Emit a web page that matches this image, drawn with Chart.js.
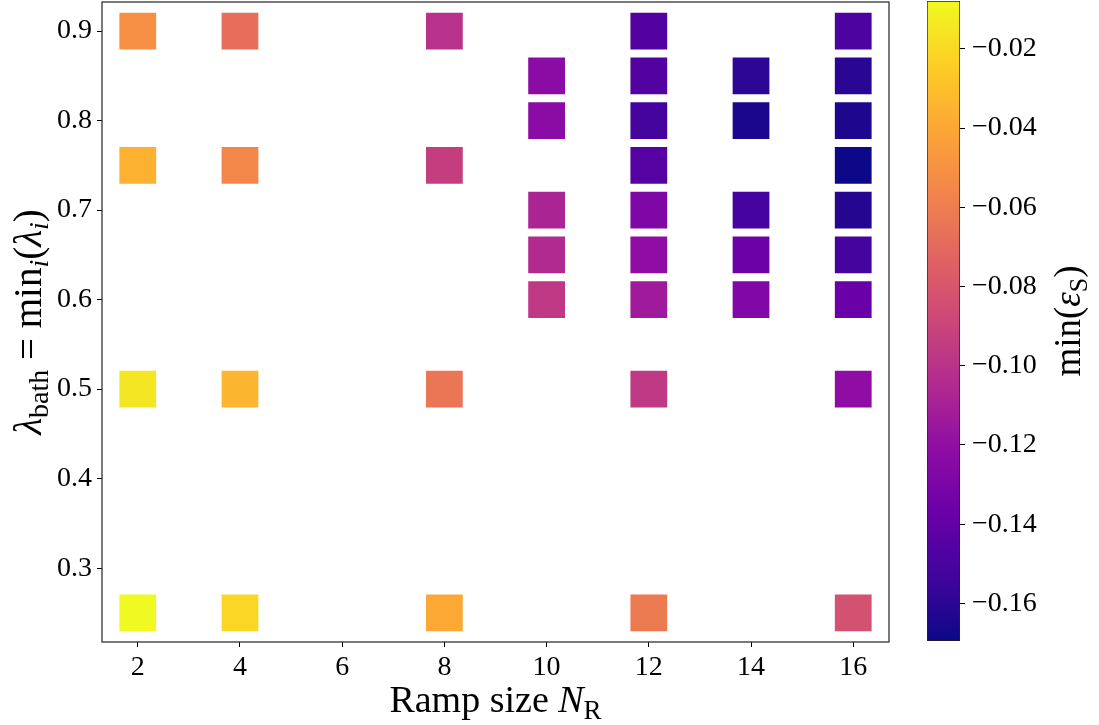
<!DOCTYPE html>
<html>
<head>
<meta charset="utf-8">
<script src="https://cdn.jsdelivr.net/npm/chart.js@4/dist/chart.umd.min.js"></script>
<style>
  body { margin: 0; background: #fff; }
  #wrap { position: relative; width: 1099px; height: 725px; }
  #main { position: absolute; left: 0; top: 0; }
  #cbar { position: absolute; left: 890px; top: 0; }
</style>
</head>
<body>
<div id="wrap">
  <canvas id="main" width="900" height="725"></canvas>
  <canvas id="cbar" width="209" height="725"></canvas>
</div>
<script>
// ramp size N_R, lambda_bath and min(eps_S) for each square
const rampSize = [
  2, 2, 2, 2,
  4, 4, 4, 4,
  8, 8, 8, 8,
  10, 10, 10, 10, 10,
  12, 12, 12, 12, 12, 12, 12, 12, 12,
  14, 14, 14, 14, 14,
  16, 16, 16, 16, 16, 16, 16, 16, 16
];
const lambdaBath = [
  0.9, 0.75, 0.5, 0.25,
  0.9, 0.75, 0.5, 0.25,
  0.9, 0.75, 0.5, 0.25,
  0.85, 0.8, 0.7, 0.65, 0.6,
  0.9, 0.85, 0.8, 0.75, 0.7, 0.65, 0.6, 0.5, 0.25,
  0.85, 0.8, 0.7, 0.65, 0.6,
  0.9, 0.85, 0.8, 0.75, 0.7, 0.65, 0.6, 0.5, 0.25
];
const minEps = [
  -0.0507, -0.0357, -0.0150, -0.0079,
  -0.0677, -0.0548, -0.0342, -0.0208,
  -0.1007, -0.0936, -0.0637, -0.0394,
  -0.1226, -0.1226, -0.1081, -0.1049, -0.0971,
  -0.1462, -0.1461, -0.1514, -0.1451, -0.1285, -0.1210, -0.1134, -0.0968, -0.0609,
  -0.1598, -0.1651, -0.1511, -0.1364, -0.1272,
  -0.1490, -0.1608, -0.1642, -0.1695, -0.1621, -0.1517, -0.1372, -0.1210, -0.0834
];

const xTicks = [2, 4, 6, 8, 10, 12, 14, 16];
const yTicks = [0.3, 0.4, 0.5, 0.6, 0.7, 0.8, 0.9];
const cbTicks = [-0.16, -0.14, -0.12, -0.10, -0.08, -0.06, -0.04, -0.02];

// plasma colormap stops
const plasmaStops = ['#0d0887', '#41049d', '#6a00a8', '#8f0da4', '#b12a90', '#cc4778',
                     '#e16462', '#f2844b', '#fca636', '#fcce25', '#f0f921'];

function hexRgb(h) {
  return [parseInt(h.slice(1, 3), 16), parseInt(h.slice(3, 5), 16), parseInt(h.slice(5, 7), 16)];
}
function plasma(t) {
  t = Math.max(0, Math.min(1, t));
  const n = plasmaStops.length - 1;
  const i = Math.min(n - 1, Math.floor(t * n));
  const f = t * n - i;
  const a = hexRgb(plasmaStops[i]), b = hexRgb(plasmaStops[i + 1]);
  const c = a.map((v, k) => Math.round(v + (b[k] - v) * f));
  return `rgb(${c[0]},${c[1]},${c[2]})`;
}

const vmin = Math.min(...minEps);
const vmax = Math.max(...minEps);
const colorOf = v => plasma((v - vmin) / (vmax - vmin));

const FONT = 'Liberation Serif';
const tickFont = { family: FONT, size: 28 };

// no extra room for tick label overflow, the layout is fixed by hand
function noPad(s) {
  s.paddingTop = 0; s.paddingBottom = 0; s.paddingLeft = 0; s.paddingRight = 0;
}

function richText(ctx, segs, x, y, angle) {
  ctx.save();
  ctx.translate(x, y);
  ctx.rotate(angle);
  ctx.fillStyle = '#000';
  ctx.textBaseline = 'alphabetic';
  ctx.textAlign = 'left';
  const fontOf = s => `${s.it ? 'italic ' : ''}${s.size}px "${FONT}"`;
  let w = 0;
  segs.forEach(s => { ctx.font = fontOf(s); s.w = ctx.measureText(s.t).width; w += s.w; });
  let cx = -w / 2;
  segs.forEach(s => { ctx.font = fontOf(s); ctx.fillText(s.t, cx, s.dy || 0); cx += s.w; });
  ctx.restore();
}

const framePlugin = {
  id: 'frame',
  afterDraw(chart) {
    const a = chart.chartArea, ctx = chart.ctx;
    ctx.save();
    ctx.strokeStyle = '#222';
    ctx.lineWidth = 1.2;
    ctx.strokeRect(a.left, a.top, a.right - a.left, a.bottom - a.top);
    ctx.restore();
  }
};

const titlesPlugin = {
  id: 'titles',
  afterDraw(chart) {
    const a = chart.chartArea, ctx = chart.ctx;
    const cx = (a.left + a.right) / 2, cy = (a.top + a.bottom) / 2;
    richText(ctx, [
      { t: 'Ramp size ', size: 38 },
      { t: 'N', size: 38, it: true },
      { t: 'R', size: 27, dy: 7 }
    ], cx, 712, 0);
    richText(ctx, [
      { t: 'λ', size: 39, it: true },
      { t: 'bath', size: 28, dy: 7 },
      { t: ' = min', size: 39 },
      { t: 'i', size: 28, it: true, dy: 7 },
      { t: '(', size: 39 },
      { t: 'λ', size: 39, it: true },
      { t: 'i', size: 28, it: true, dy: 7 },
      { t: ')', size: 39 }
    ], 41, cy, -Math.PI / 2);
  }
};

const pts = rampSize.map((x, i) => ({ x: x, y: lambdaBath[i] }));

new Chart(document.getElementById('main'), {
  type: 'scatter',
  data: {
    datasets: [{
      data: pts,
      pointStyle: 'rect',
      pointRadius: 26,
      pointHoverRadius: 26,
      borderWidth: 0,
      backgroundColor: minEps.map(colorOf)
    }]
  },
  options: {
    responsive: false,
    animation: false,
    events: [],
    layout: { autoPadding: false, padding: { top: 2, right: 11, left: 0, bottom: 0 } },
    plugins: { legend: { display: false }, tooltip: { enabled: false } },
    scales: {
      x: {
        type: 'linear', min: 1.3, max: 16.7,
        afterBuildTicks: s => { s.ticks = xTicks.map(v => ({ value: v })); },
        afterFit: s => { s.height = 83; noPad(s); },
        border: { display: false },
        grid: { drawOnChartArea: false, drawTicks: true, tickLength: 5, color: '#000' },
        ticks: { font: tickFont, color: '#000', padding: 4, maxRotation: 0, callback: v => String(v) }
      },
      y: {
        type: 'linear', min: 0.2175, max: 0.9325,
        afterBuildTicks: s => { s.ticks = yTicks.map(v => ({ value: v })); },
        afterFit: s => { s.width = 102; noPad(s); },
        border: { display: false },
        grid: { drawOnChartArea: false, drawTicks: true, tickLength: 5, color: '#000' },
        ticks: { font: tickFont, color: '#000', padding: 5, callback: v => v.toFixed(1) }
      }
    }
  },
  plugins: [framePlugin, titlesPlugin]
});

// colorbar
const cbTitle = {
  id: 'cbTitle',
  afterDraw(chart) {
    const a = chart.chartArea;
    richText(chart.ctx, [
      { t: 'min(', size: 37 },
      { t: 'ε', size: 37, it: true },
      { t: 'S', size: 26, dy: 7 },
      { t: ')', size: 37 }
    ], 190, (a.top + a.bottom) / 2, -Math.PI / 2);
  }
};

new Chart(document.getElementById('cbar'), {
  type: 'bar',
  data: {
    labels: [''],
    datasets: [{
      data: [[vmin, vmax]],
      backgroundColor: c => {
        const a = c.chart.chartArea;
        if (!a) return null;
        const g = c.chart.ctx.createLinearGradient(0, a.bottom, 0, a.top);
        plasmaStops.forEach((col, i) => g.addColorStop(i / (plasmaStops.length - 1), col));
        return g;
      },
      borderColor: '#222',
      borderWidth: 1,
      borderSkipped: false,
      categoryPercentage: 1,
      barPercentage: 1
    }]
  },
  options: {
    responsive: false,
    animation: false,
    events: [],
    layout: { padding: { left: 37, top: 1, bottom: 84, right: 0 } },
    plugins: { legend: { display: false }, tooltip: { enabled: false } },
    scales: {
      x: { display: false },
      y: {
        position: 'right', min: vmin, max: vmax,
        afterBuildTicks: s => { s.ticks = cbTicks.map(v => ({ value: v })); },
        afterFit: s => { s.width = 139; noPad(s); },
        border: { display: false },
        grid: { drawOnChartArea: false, drawTicks: true, tickLength: 5, color: '#000' },
        ticks: { font: tickFont, color: '#000', padding: 7, callback: v => '\u2212' + Math.abs(v).toFixed(2) }
      }
    }
  },
  plugins: [cbTitle]
});
</script>
</body>
</html>
